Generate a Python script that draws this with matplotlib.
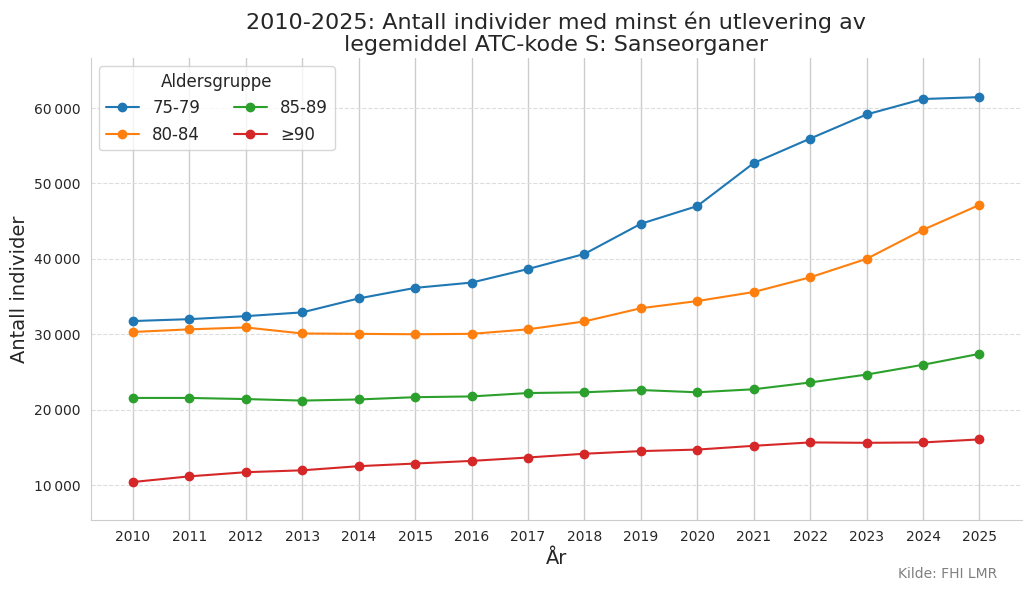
import matplotlib
matplotlib.use('Agg')
import matplotlib.pyplot as plt
import matplotlib.ticker as mticker
import seaborn as sns

years = list(range(2010, 2026))
age_groups = ['75-79', '80-84', '85-89', '≥90']
vals_75_79 = [31750, 32000, 32400, 32900, 34750, 36150, 36850, 38650, 40650, 44650, 47000, 52700, 55950, 59150, 61200, 61450]
vals_80_84 = [30300, 30650, 30900, 30100, 30050, 30000, 30050, 30650, 31700, 33450, 34400, 35600, 37550, 40000, 43850, 47150]
vals_85_89 = [21550, 21550, 21400, 21200, 21350, 21650, 21750, 22200, 22300, 22600, 22300, 22700, 23600, 24650, 25950, 27400]
vals_90 = [10400, 11150, 11700, 11950, 12500, 12850, 13200, 13650, 14150, 14500, 14700, 15200, 15650, 15600, 15650, 16050]
series = [vals_75_79, vals_80_84, vals_85_89, vals_90]
colors = ['#1f77b4', '#ff7f0e', '#2ca02c', '#d62728']

sns.set_style('whitegrid')
plt.rcParams['font.family'] = ['DejaVu Sans']

fig = plt.figure(figsize=(10.3, 5.91), dpi=100)
ax = fig.add_axes([0.088, 0.12, 0.904, 0.782])

for label, vals, c in zip(age_groups, series, colors):
    ax.plot(years, vals, marker='o', markersize=6, linewidth=1.5, color=c, label=label)

ax.set_xticks(years)
ax.set_ylim(5350, 66650)
ax.tick_params(axis='both', labelsize=10)
ax.yaxis.set_major_formatter(mticker.FuncFormatter(lambda v, p: f'{int(v):,}'.replace(',', '\u2009')))
ax.yaxis.set_major_locator(mticker.MultipleLocator(10000))

ax.grid(axis='y', linestyle='--', color='#dddddd', linewidth=0.8)
ax.grid(axis='x', linestyle='-', color='#cccccc', linewidth=1.0)
sns.despine(ax=ax)
for s in ['left', 'bottom']:
    ax.spines[s].set_color('#cccccc')

ax.set_title('2010-2025: Antall individer med minst én utlevering av\nlegemiddel ATC-kode S: Sanseorganer',
             fontsize=16, color='#262626', linespacing=1.1, pad=5)
ax.set_xlabel('År', fontsize=14, labelpad=4)
ax.set_ylabel('Antall individer', fontsize=14)

leg = ax.legend(title='Aldersgruppe', ncol=2, fontsize=12, title_fontsize=12,
                loc='upper left', frameon=True)

fig.text(0.968, 0.028, 'Kilde: FHI LMR', ha='right', va='center', fontsize=10, color='gray')

fig.savefig('out.png', dpi=100)
